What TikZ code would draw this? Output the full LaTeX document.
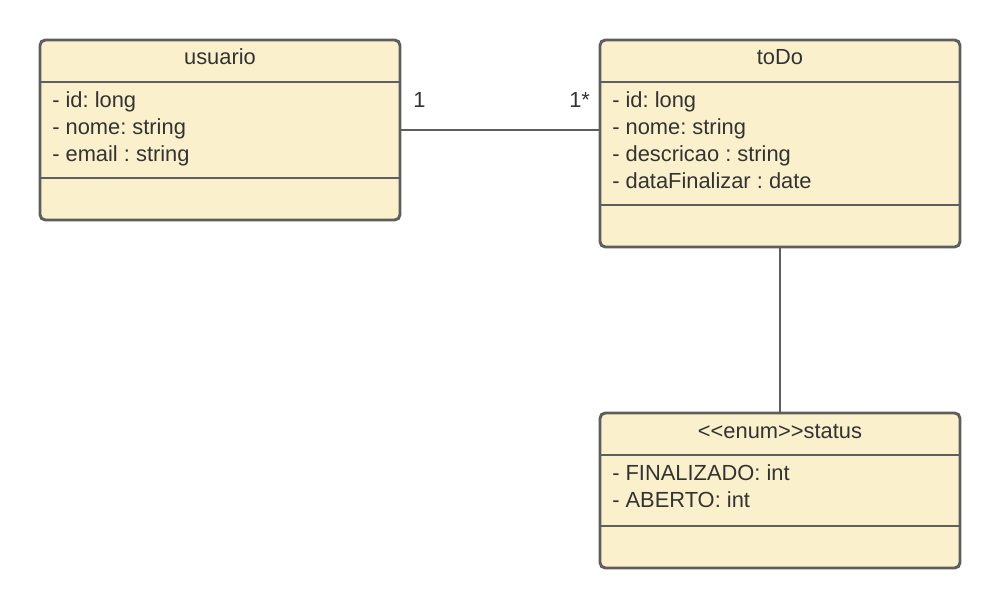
\documentclass[tikz,border=0pt]{standalone}
\usepackage{fontspec}
\setmainfont{Liberation Sans}
\usepackage{xcolor}
\usetikzlibrary{positioning}

\definecolor{boxfill}{HTML}{FBF0CC}
\definecolor{boxline}{HTML}{5E5E5E}
\definecolor{txtgray}{HTML}{333333}
\frenchspacing

\begin{document}
\begin{tikzpicture}[x=0.75pt,y=-0.75pt,
classbox/.style={draw=boxline, fill=boxfill, line width=2.2pt, rounded corners=4pt, inner sep=0pt, minimum width=270pt},
divider/.style={draw=boxline, line width=2.2pt},
link/.style={draw=boxline, line width=1.5pt},
txt/.style={anchor=base west, inner sep=0pt, text=txtgray, font=\fontsize{16.4}{20}\selectfont},
ttl/.style={anchor=base, inner sep=0pt, text=txtgray, font=\fontsize{16.4}{20}\selectfont}
]
\useasboundingbox (0,0) rectangle (1000,609);

% usuario
\node[classbox, minimum height=135pt](U) at (220,130) {};
\draw[divider] (U.west |- 0,82) -- (U.east |- 0,82);
\draw[divider] (U.west |- 0,178) -- (U.east |- 0,178);
\node[ttl](Ut) at (220,65) {usuario};
\node[txt](U1) at (52,108) {- id: long};
\node[txt](U2) at (52,135) {- nome: string};
\node[txt](U3) at (52,162) {- email : string};

% toDo
\node[classbox, minimum height=155.25pt](T) at (780,143.5) {};
\draw[divider] (T.west |- 0,82) -- (T.east |- 0,82);
\draw[divider] (T.west |- 0,205) -- (T.east |- 0,205);
\node[ttl](Tt) at (780,65) {toDo};
\node[txt](T1) at (612,108) {- id: long};
\node[txt](T2) at (612,135) {- nome: string};
\node[txt](T3) at (612,162) {- descricao : string};
\node[txt](T4) at (612,189) {- dataFinalizar : date};

% status
\node[classbox, minimum height=116.25pt](S) at (780,490.5) {};
\draw[divider] (S.west |- 0,455) -- (S.east |- 0,455);
\draw[divider] (S.west |- 0,526) -- (S.east |- 0,526);
\node[ttl](St) at (780,439) {<{}<enum>{}>status};
\node[txt](S1) at (612,481) {- FINALIZADO: int};
\node[txt](S2) at (612,508) {- ABERTO: int};

% ligacoes
\draw[link] (U.east |- 0,130) -- (T.west |- 0,130);
\draw[link] (T.south) -- (S.north);
\node[txt](m1) at (413,108) {1};
\node[txt](m2) at (569,108) {1*};
\end{tikzpicture}
\end{document}
